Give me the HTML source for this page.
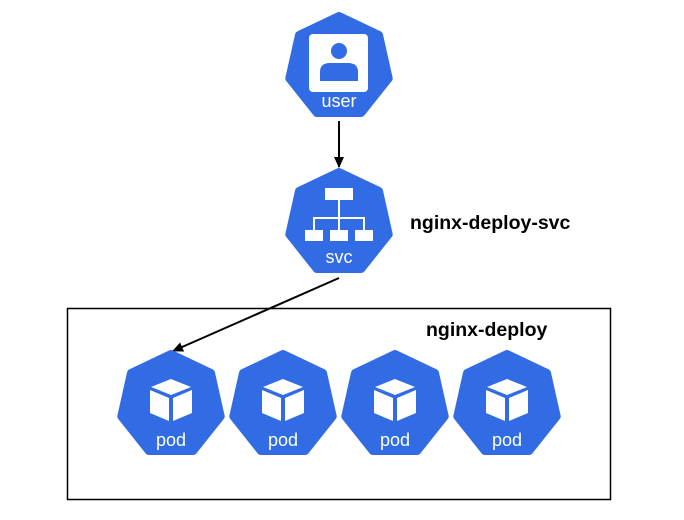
<!DOCTYPE html>
<html><head><style>body{margin:0;background:#fff}svg{display:block}</style></head><body>
<svg width="684" height="520" viewBox="0 0 684 520" xmlns="http://www.w3.org/2000/svg" font-family="Liberation Sans, DejaVu Sans, sans-serif">
<defs>
<polygon id="hep" points="0,-51 40,-32 49.7,11.4 22.2,46 -22.2,46 -49.7,11.4 -40,-32" fill="#326ce5" stroke="#326ce5" stroke-width="8" stroke-linejoin="round"/>
<g id="cube">
<polygon points="0,-20 20,-12 0,-4 -20,-12" fill="#fff"/>
<polygon points="-21,-9 -2,-1 -2,22 -21,14" fill="#fff"/>
<polygon points="21,-9 2,-1 2,22 21,14" fill="#fff"/>
</g>
<marker id="ah" markerWidth="12" markerHeight="12" refX="10" refY="6" orient="auto" markerUnits="userSpaceOnUse"><path d="M0,1 L11,6 L0,11 Z" fill="#000"/></marker>
</defs>
<rect x="67.5" y="308.5" width="543" height="191" fill="none" stroke="#000" stroke-width="1.5"/>
<use href="#hep" x="339" y="67"/>
<rect x="309" y="34" width="59" height="58" rx="4" fill="#fff"/>
<circle cx="339" cy="51" r="8" fill="#326ce5"/>
<path d="M320,81 L320,72 Q320,63 330,63 L348,63 Q358,63 358,72 L358,81 Z" fill="#326ce5"/>
<text x="339" y="107" font-size="18" fill="#fff" text-anchor="middle">user</text>
<line x1="339" y1="121" x2="339" y2="167" stroke="#000" stroke-width="2" marker-end="url(#ah)"/>
<use href="#hep" x="339" y="223"/>
<g fill="#fff">
<rect x="325" y="188" width="28" height="12"/>
<rect x="305" y="230" width="18" height="11"/>
<rect x="330" y="230" width="18" height="11"/>
<rect x="355" y="230" width="18" height="11"/>
<rect x="338" y="200" width="2" height="30"/>
<rect x="313" y="217" width="52" height="2"/>
<rect x="313" y="217" width="2" height="13"/>
<rect x="363" y="217" width="2" height="13"/>
</g>
<text x="339" y="263" font-size="18" fill="#fff" text-anchor="middle">svc</text>
<text x="410" y="229" font-size="19.5" font-weight="bold" fill="#000">nginx-deploy-svc</text>
<line x1="339" y1="278" x2="173" y2="351" stroke="#000" stroke-width="2" marker-end="url(#ah)"/>
<text x="426" y="336" font-size="19.5" font-weight="bold" fill="#000">nginx-deploy</text>
<g>
<use href="#hep" x="171" y="405"/><use href="#cube" x="171" y="399"/>
<text x="171" y="446" font-size="18" fill="#fff" text-anchor="middle">pod</text>
<use href="#hep" x="283" y="405"/><use href="#cube" x="283" y="399"/>
<text x="283" y="446" font-size="18" fill="#fff" text-anchor="middle">pod</text>
<use href="#hep" x="395" y="405"/><use href="#cube" x="395" y="399"/>
<text x="395" y="446" font-size="18" fill="#fff" text-anchor="middle">pod</text>
<use href="#hep" x="507" y="405"/><use href="#cube" x="507" y="399"/>
<text x="507" y="446" font-size="18" fill="#fff" text-anchor="middle">pod</text>
</g>
</svg>
</body></html>
